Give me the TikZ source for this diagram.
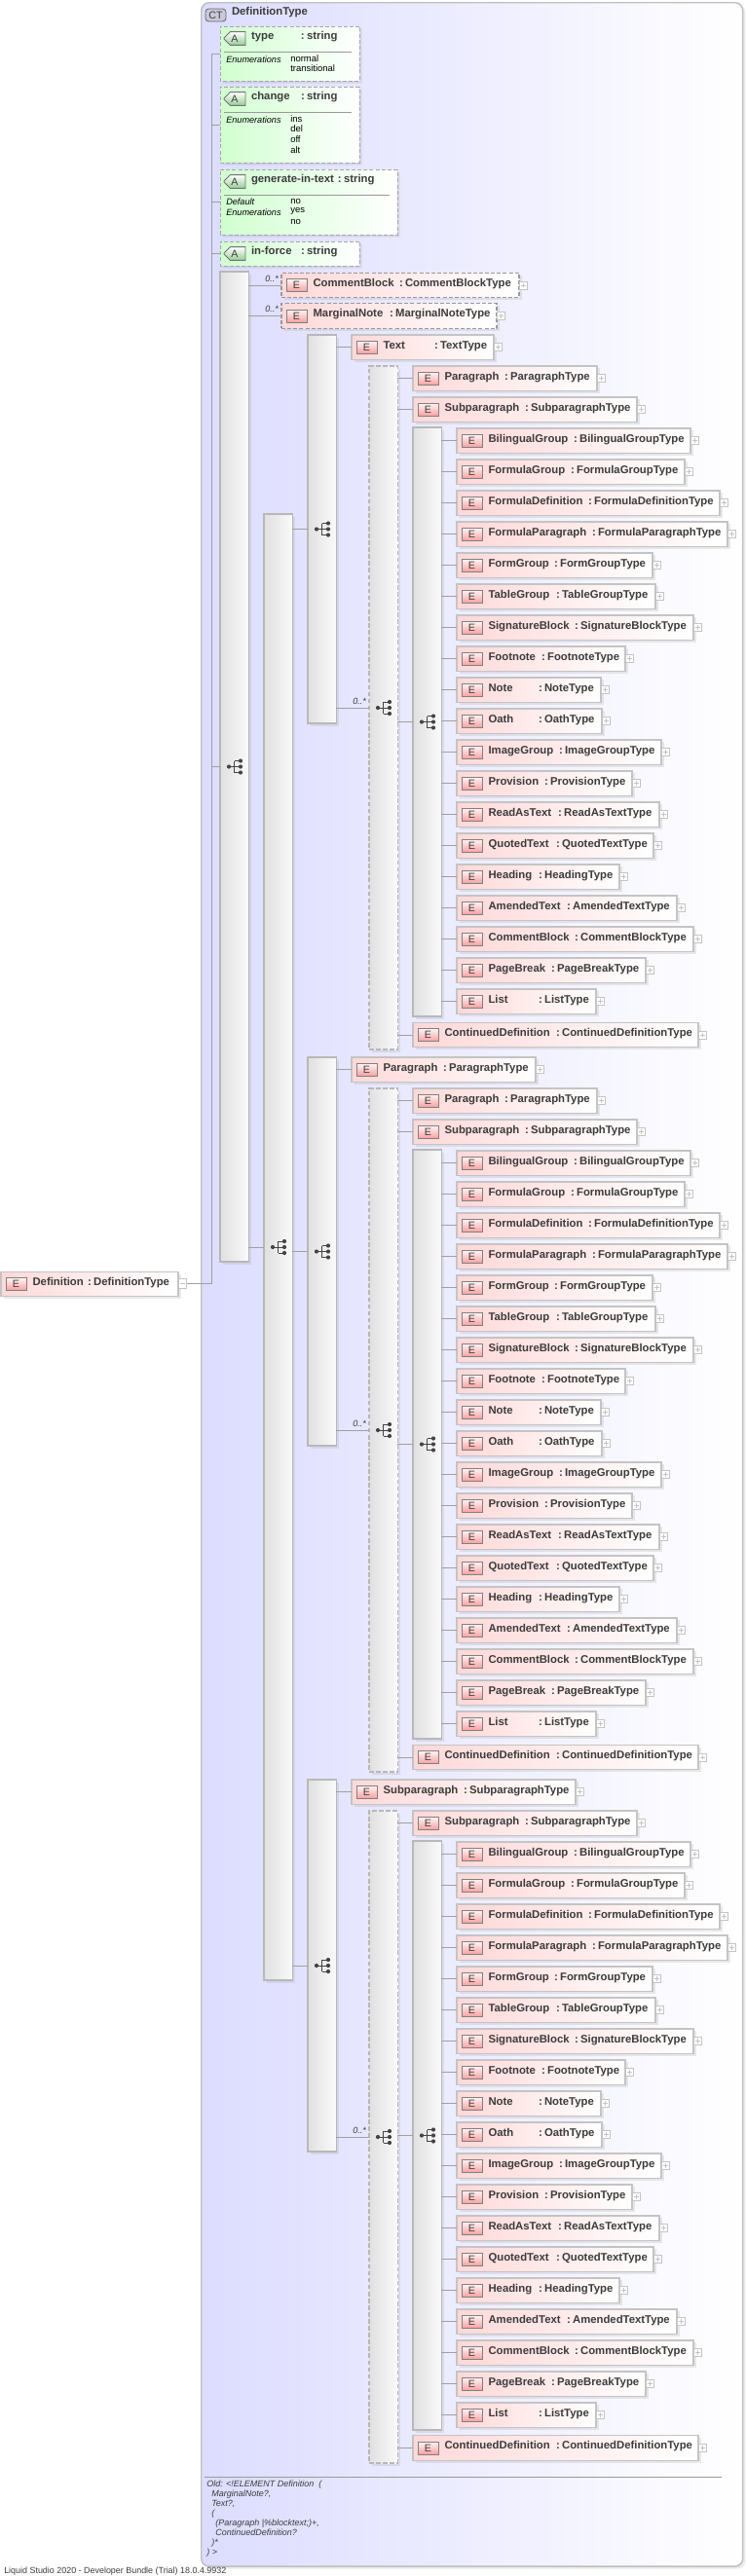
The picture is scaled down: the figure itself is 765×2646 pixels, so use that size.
\documentclass[tikz,border=0pt]{standalone}
\usepackage{fontspec}
\setmainfont{Liberation Sans}
\usetikzlibrary{positioning,shapes.misc,shadows}
\definecolor{textdark}{RGB}{60,60,60}
\definecolor{linegray}{RGB}{160,160,160}
\definecolor{edgegray}{RGB}{196,196,196}
\definecolor{ctblue}{RGB}{220,220,255}
\definecolor{ctmid}{RGB}{232,232,255}
\definecolor{elempink}{RGB}{255,216,216}
\definecolor{badgepink}{RGB}{248,160,160}
\definecolor{attrgreen}{RGB}{208,255,208}
\definecolor{badgegreen}{RGB}{150,205,150}
\definecolor{icondark}{RGB}{68,68,68}

% one row of the schema: id, left, right, y, colon x, name, type
\newcommand{\elemnode}[8][]{%
  \pgfmathsetlengthmacro{\boxw}{(#4-#3)*.75pt}%
  \pgfmathsetlengthmacro{\namew}{(#6-#3-32.5)*.75pt}%
  \node[elembox, minimum width=\boxw, #1] (#2) at (#3,#5) {};
  \node[ebadge, right=3.75pt of #2.west] (#2-b) {E};
  \node[elemlabel, right=24.4pt of #2.west, yshift=1.1pt] (#2-t) {\makebox[\namew][l]{#7}:\kern1.7pt #8};
  \node[plusbox, right=0pt of #2.east] (#2-p) {};
}
% attribute box: id, top, bottom, right, name, colon x
\newcommand{\attrnode}[6]{%
  \pgfmathsetlengthmacro{\boxw}{(#4-226)*.75pt}%
  \pgfmathsetlengthmacro{\boxh}{(#3-#2)*.75pt}%
  \pgfmathsetlengthmacro{\namew}{(#6-258)*.75pt}%
  \node[attrbox, minimum width=\boxw, minimum height=\boxh] (#1) at ({(226+#4)/2},{(#2+#3)/2}) {};
  \node[abadge] (#1-b) at (241,#2+12.5) {A};
  \node[elemlabel] (#1-t) at (258,#2+11) {\makebox[\namew][l]{#5}:\kern1.7pt string};
}
% the 19 rows under one dashed bar: prefix, y offset
\newcommand{\grouprows}[2]{%
  \pgfmathsetmacro{\seqy}{#2+741.5}%
  \node[seqbar=605] (#1seq) at (424,\seqy) {};
  \pic at ([xshift=6.75pt]#1seq.west) {seqicon};
  \draw[conn] (#1dash.east |- #1seq.west) -- (#1seq.west);
  \foreach \nm/\rgt/\cln [count=\ri] in {
    BilingualGroup/709/589, FormulaGroup/703/586, FormulaDefinition/739/604,
    FormulaParagraph/747/608, FormGroup/670/569, TableGroup/673/571,
    SignatureBlock/712/590, Footnote/642/556, Note/617/553, Oath/618/553,
    ImageGroup/679/574, Provision/649/559, ReadAsText/677/573, QuotedText/671/571,
    Heading/636/553, AmendedText/695/582, CommentBlock/712/590, PageBreak/663/566,
    List/612/553} {
    \pgfmathsetmacro{\rowy}{#2+452.7+32*(\ri-1)}
    \elemnode{#1r\ri}{469}{\rgt}{\rowy}{\cln}{\nm}{\nm Type}
    \draw[conn] (#1seq.east |- #1r\ri.west) -- (#1r\ri.west);
  }
}

\begin{document}
\begin{tikzpicture}[
    x=.75pt, y=-.75pt,
    conn/.style={draw=linegray, line width=.75pt},
    softshadow/.style={drop shadow={shadow xshift=1.9pt, shadow yshift=-1.9pt, opacity=.2, fill=black!40}},
    elembox/.style={draw=edgegray, line width=.9pt, left color=elempink, right color=white, anchor=west, inner sep=0pt, outer sep=0pt, minimum height=19.2pt, softshadow},
    ebadge/.style={draw=black!50, line width=.6pt, top color=red!4, bottom color=badgepink, inner sep=0pt, outer sep=0pt, minimum width=15.75pt, minimum height=9.75pt, font=\fontsize{8}{8}\selectfont, text=textdark},
    elemlabel/.style={inner sep=0pt, outer sep=0pt, anchor=west, font=\fontsize{8.5}{8.5}\selectfont\bfseries, text=textdark, text height=6.2pt, text depth=1.8pt},
    plusbox/.style={draw=edgegray, line width=.6pt, fill=white, inner sep=0pt, outer sep=0pt, minimum width=6.6pt, minimum height=6pt,
      path picture={\draw[edgegray, line width=.5pt] ([xshift=-1.8pt]path picture bounding box.center) -- ([xshift=1.8pt]path picture bounding box.center) ([yshift=-1.8pt]path picture bounding box.center) -- ([yshift=1.8pt]path picture bounding box.center);}},
    minusbox/.style={draw=edgegray, line width=.6pt, fill=white, inner sep=0pt, outer sep=0pt, minimum width=6.6pt, minimum height=7pt,
      path picture={\draw[edgegray, line width=.5pt] ([xshift=-1.8pt]path picture bounding box.center) -- ([xshift=1.8pt]path picture bounding box.center);}},
    attrbox/.style={chamfered rectangle, chamfered rectangle corners={north west, south west}, chamfered rectangle sep=3.4pt, draw=black!35, dashed, dash pattern=on 3pt off 1.6pt, line width=.7pt, left color=attrgreen, right color=white, inner sep=0pt, outer sep=0pt, softshadow},
    abadge/.style={chamfered rectangle, chamfered rectangle corners={north west, south west}, chamfered rectangle sep=2.4pt, draw=black!55, line width=.6pt, top color=white, bottom color=badgegreen, inner sep=0pt, outer sep=0pt, minimum width=16.5pt, minimum height=9.75pt, font=\fontsize{8}{8}\selectfont, text=textdark},
    seqbar/.style={draw=black!28, line width=.8pt, left color=black!12, right color=black!2, inner sep=0pt, outer sep=0pt, anchor=west, minimum width=22pt, minimum height=#1*.75pt, softshadow},
    dashbar/.style={seqbar=#1, dashed, dash pattern=on 3.5pt off 1.8pt},
    attrkey/.style={inner sep=0pt, anchor=west, font=\fontsize{6.85}{6.85}\selectfont\itshape, text=black},
    attrval/.style={inner sep=0pt, anchor=west, font=\fontsize{7.1}{7.1}\selectfont, text=black},
    occurs/.style={inner sep=0pt, outer sep=0pt, font=\fontsize{6.8}{6.8}\selectfont\itshape, text=textdark},
    seqicon/.pic={
      \draw[icondark, line width=.75pt] (0,0) -- (12,0) (5.5,-6) -- (5.5,6) (5.5,-6) -- (12,-6) (5.5,6) -- (12,6);
      \fill[icondark] (0,0) circle (2.1) (12,-6) circle (2.1) (12,0) circle (2.1) (12,6) circle (2.1);
    }
]
    \useasboundingbox (0,0) rectangle (765,2646);

    % Complex type frame
    \node[draw=black!25, line width=1.1pt, rounded corners=6pt, left color=ctblue, middle color=ctmid, right color=white, anchor=north west, inner sep=0pt, minimum width=417pt, minimum height=1975pt, softshadow] (ctframe) at (206,2) {};
    \node[draw=black!60, line width=.6pt, rounded corners=2.5pt, fill=blue!20!gray!35, inner sep=0pt, minimum width=15.75pt, minimum height=9.75pt, font=\fontsize{8}{8}\selectfont, text=textdark] (ctbadge) at (221.5,15.5) {CT};
    \node[elemlabel] (cttitle) at (238,13) {DefinitionType};
    \node[inner sep=0pt, anchor=west, align=left, font=\fontsize{6.75}{7.5}\selectfont\itshape, text=textdark] (oldnote) at (212,2587) {Old: <!ELEMENT Definition\ \ (\\
      \hspace*{3.75pt}MarginalNote?,\\
      \hspace*{3.75pt}Text?,\\
      \hspace*{3.75pt}(\\
      \hspace*{6.75pt}(Paragraph |\%blocktext;)+,\\
      \hspace*{6.75pt}ContinuedDefinition?\\
      \hspace*{3.75pt})*\\
      ) >};
    \node[inner sep=0pt, anchor=west, font=\fontsize{6.7}{6.7}\selectfont, text=textdark] (footer) at (4,2641) {Liquid Studio 2020 - Developer Bundle (Trial) 18.0.4.9932};
    \coordinate (trunktop) at (217,55);
    \coordinate (notetop) at (210,2544);
    \draw[draw=black!40, line width=.75pt] (notetop) -- (notetop -| 741,0);

    % Root element
    \node[elembox, minimum width=136.5pt] (def) at (1,1319) {};
    \node[ebadge, right=3.75pt of def.west] (def-b) {E};
    \node[elemlabel, right=24.4pt of def.west, yshift=1.1pt] (def-t) {\makebox[42.4pt][l]{Definition}:\kern1.7pt DefinitionType};
    \node[minusbox, right=0pt of def.east, yshift=.5pt] (def-m) {};

    % Attributes
    \attrnode{atype}{27}{83}{369}{type}{309}
    \attrnode{achange}{89}{167}{369}{change}{309}
    \attrnode{agenerate}{174}{241}{408}{generate-in-text}{347}
    \attrnode{aforce}{248}{273}{369}{in-force}{309}
    \draw[conn] (def-m.east) -| (trunktop) -- (atype.west);
    \foreach \attrid in {achange, agenerate, aforce}
        \draw[conn] (trunktop |- \attrid.west) -- (\attrid.west);
    \draw[draw=black!40, line width=.6pt] (230,53) -- (361,53) (230,115) -- (361,115) (230,200) -- (400,200);
    \node[attrkey] (typekey) at (232,61) {Enumerations};
    \node[attrval] (typeval1) at (298,60) {normal};
    \node[attrval] (typeval2) at (298,70) {transitional};
    \node[attrkey] (changekey) at (232,123) {Enumerations};
    \foreach \vt/\vy [count=\vi] in {ins/122, del/132, off/143, alt/154}
        \node[attrval] (changeval\vi) at (298,\vy) {\vt};
    \node[attrkey] (genkey1) at (232,207) {Default};
    \node[attrkey] (genkey2) at (232,218) {Enumerations};
    \foreach \vt/\vy [count=\vi] in {no/207, yes/217, no/228}
        \node[attrval] (genval\vi) at (298,\vy) {\vt};

    % Sequence bars
    \node[seqbar=1017] (seqmain) at (226,787.5) {};
    \pic at ([xshift=6.75pt]seqmain.west) {seqicon};
    \draw[conn] (trunktop |- seqmain.west) -- (seqmain.west);
    \elemnode[dashed, dash pattern=on 3pt off 1.6pt, draw=black!40]{comment}{289}{533}{293}{410}{CommentBlock}{CommentBlockType}
    \elemnode[dashed, dash pattern=on 3pt off 1.6pt, draw=black!40]{marginal}{289}{510}{324.5}{400}{MarginalNote}{MarginalNoteType}
    \draw[conn] (seqmain.east |- comment.west) -- (comment.west);
    \draw[conn] (seqmain.east |- marginal.west) -- (marginal.west);
    \node[occurs, above left=2.9pt and 2.25pt of comment.west] (commentocc) {0..*};
    \node[occurs, above left=2.9pt and 2.25pt of marginal.west] (marginalocc) {0..*};
    \node[seqbar=1506] (seqouter) at (271,1281) {};
    \pic at ([xshift=6.75pt]seqouter.west) {seqicon};
    \draw[conn] (seqmain.east |- seqouter.west) -- (seqouter.west);

    % Text group
    \node[seqbar=399] (aseq0) at (316,543.5) {};
    \pic at ([xshift=6.75pt]aseq0.west) {seqicon};
    \draw[conn] (seqouter.east |- aseq0.west) -- (aseq0.west);
    \elemnode{atext}{361}{507}{356.7}{446}{Text}{TextType}
    \draw[conn] (aseq0.east |- atext.west) -- (atext.west);
    \node[dashbar=702] (adash) at (379,727) {};
    \pic at ([xshift=6.75pt]adash.west) {seqicon};
    \draw[conn] (aseq0.east |- adash.west) -- (adash.west);
    \node[occurs, above left=2.9pt and 2.25pt of adash.west] (aocc) {0..*};
    \elemnode{apara}{424}{613}{388.7}{518}{Paragraph}{ParagraphType}
    \elemnode{asub}{424}{654}{420.7}{539}{Subparagraph}{SubparagraphType}
    \draw[conn] (adash.east |- apara.west) -- (apara.west);
    \draw[conn] (adash.east |- asub.west) -- (asub.west);
    \grouprows{a}{0}
    \elemnode{acont}{424}{717}{1063}{571}{ContinuedDefinition}{ContinuedDefinitionType}
    \draw[conn] (adash.east |- acont.west) -- (acont.west);

    % Paragraph group
    \node[seqbar=399] (bseq0) at (316,1285.5) {};
    \pic at ([xshift=6.75pt]bseq0.west) {seqicon};
    \draw[conn] (seqouter.east |- bseq0.west) -- (bseq0.west);
    \elemnode{btext}{361}{550}{1098.7}{455}{Paragraph}{ParagraphType}
    \draw[conn] (bseq0.east |- btext.west) -- (btext.west);
    \node[dashbar=702] (bdash) at (379,1469) {};
    \pic at ([xshift=6.75pt]bdash.west) {seqicon};
    \draw[conn] (bseq0.east |- bdash.west) -- (bdash.west);
    \node[occurs, above left=2.9pt and 2.25pt of bdash.west] (bocc) {0..*};
    \elemnode{bpara}{424}{613}{1130.7}{518}{Paragraph}{ParagraphType}
    \elemnode{bsub}{424}{654}{1162.7}{539}{Subparagraph}{SubparagraphType}
    \draw[conn] (bdash.east |- bpara.west) -- (bpara.west);
    \draw[conn] (bdash.east |- bsub.west) -- (bsub.west);
    \grouprows{b}{742}
    \elemnode{bcont}{424}{717}{1805}{571}{ContinuedDefinition}{ContinuedDefinitionType}
    \draw[conn] (bdash.east |- bcont.west) -- (bcont.west);

    % Subparagraph group
    \node[seqbar=382] (cseq0) at (316,2019) {};
    \pic at ([xshift=6.75pt]cseq0.west) {seqicon};
    \draw[conn] (seqouter.east |- cseq0.west) -- (cseq0.west);
    \elemnode{ctext}{361}{591}{1840.7}{476}{Subparagraph}{SubparagraphType}
    \draw[conn] (cseq0.east |- ctext.west) -- (ctext.west);
    \node[dashbar=670] (cdash) at (379,2195) {};
    \pic at ([xshift=6.75pt]cdash.west) {seqicon};
    \draw[conn] (cseq0.east |- cdash.west) -- (cdash.west);
    \node[occurs, above left=2.9pt and 2.25pt of cdash.west] (cocc) {0..*};
    \elemnode{csub}{424}{654}{1872.7}{539}{Subparagraph}{SubparagraphType}
    \draw[conn] (cdash.east |- csub.west) -- (csub.west);
    \grouprows{c}{1452}
    \elemnode{ccont}{424}{717}{2514.5}{571}{ContinuedDefinition}{ContinuedDefinitionType}
    \draw[conn] (cdash.east |- ccont.west) -- (ccont.west);
\end{tikzpicture}
\end{document}
